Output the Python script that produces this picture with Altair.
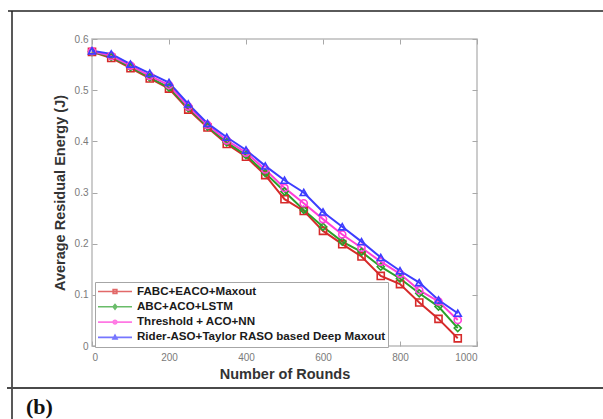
import altair as alt
import pandas as pd

# Rounds at which the residual energy was sampled
rounds = [0, 50, 100, 150, 200, 250, 300, 350, 400, 450,
          500, 550, 600, 650, 700, 750, 800, 850, 900, 950]

methods = [
    "FABC+EACO+Maxout",
    "ABC+ACO+LSTM",
    "Threshold + ACO+NN",
    "Rider-ASO+Taylor RASO based Deep Maxout",
]

# Average residual energy (J) per method
fabc_eaco_maxout = [0.575, 0.563, 0.543, 0.523, 0.503, 0.462, 0.427, 0.395, 0.370, 0.334,
                    0.287, 0.264, 0.225, 0.199, 0.175, 0.137, 0.121, 0.085, 0.053, 0.015]
abc_aco_lstm = [0.575, 0.565, 0.545, 0.525, 0.505, 0.465, 0.429, 0.398, 0.373, 0.338,
                0.302, 0.266, 0.233, 0.204, 0.184, 0.155, 0.132, 0.103, 0.077, 0.035]
threshold_aco_nn = [0.576, 0.567, 0.548, 0.528, 0.510, 0.468, 0.432, 0.402, 0.378, 0.345,
                    0.309, 0.279, 0.248, 0.218, 0.192, 0.165, 0.141, 0.109, 0.087, 0.051]
rider_aso_taylor = [0.577, 0.571, 0.551, 0.533, 0.515, 0.473, 0.435, 0.408, 0.383, 0.352,
                    0.324, 0.300, 0.262, 0.233, 0.204, 0.173, 0.147, 0.124, 0.090, 0.064]

x_ticks = [0, 200, 400, 600, 800, 1000]
y_ticks = [0, 0.1, 0.2, 0.3, 0.4, 0.5, 0.6]

colors = ["#d62a2a", "#2aa02a", "#ff3fd9", "#3d3dff"]
marker_shapes = ["square", "diamond", "circle", "triangle-up"]
# legend glyphs: a line segment with the series marker in its middle
legend_glyphs = [
    "M-1,0H1M-0.11,-0.11H0.11V0.11H-0.11Z",
    "M-1,0H1M0,-0.14L0.11,0L0,0.14L-0.11,0Z",
    "M-1,0H1M-0.11,0A0.11,0.11 0 1,0 0.11,0A0.11,0.11 0 1,0 -0.11,0Z",
    "M-1,0H1M0,-0.13L0.12,0.09L-0.12,0.09Z",
]

rows = []
for name, vals in zip(methods, [fabc_eaco_maxout, abc_aco_lstm, threshold_aco_nn, rider_aso_taylor]):
    for r, v in zip(rounds, vals):
        rows.append({"rounds": r, "energy": v, "method": name})
df = pd.DataFrame(rows)

FONT = "Liberation Sans"
AXIS_GREY = "#a8a8a8"
LABEL_GREY = "#7a7a7a"
TITLE_COLOR = "#333333"

x_scale = alt.Scale(domain=[0, 1000], nice=False)
y_scale = alt.Scale(domain=[0, 0.6], nice=False)

tick_axis = dict(
    tickSize=5, offset=-5, domain=False, grid=False,
    tickColor=AXIS_GREY, tickWidth=1,
    labelFont=FONT, labelFontSize=10, labelColor=LABEL_GREY,
)
title_style = dict(titleFont=FONT, titleFontSize=14.5, titleFontWeight="bold", titleColor=TITLE_COLOR)

lines = alt.Chart(df).mark_line(strokeWidth=2).encode(
    x=alt.X("rounds:Q", scale=x_scale,
            axis=alt.Axis(orient="bottom", values=x_ticks, format="d",
                          labelPadding=6, title="Number of Rounds", titlePadding=5,
                          **tick_axis, **title_style)),
    y=alt.Y("energy:Q", scale=y_scale,
            axis=alt.Axis(orient="left", values=y_ticks, format=".1~f",
                          labelPadding=4, title="Average Residual Energy (J)", titlePadding=7,
                          **tick_axis, **title_style)),
    color=alt.Color("method:N", scale=alt.Scale(domain=methods, range=colors), legend=None),
)

points = alt.Chart(df).mark_point(filled=False, size=50, strokeWidth=1.6, opacity=1).encode(
    x=alt.X("rounds:Q", scale=x_scale,
            axis=alt.Axis(orient="top", values=x_ticks, labels=False, title=None, **tick_axis)),
    y=alt.Y("energy:Q", scale=y_scale,
            axis=alt.Axis(orient="right", values=y_ticks, labels=False, title=None, **tick_axis)),
    color=alt.Color("method:N", scale=alt.Scale(domain=methods, range=colors), legend=None),
    shape=alt.Shape("method:N", scale=alt.Scale(domain=methods, range=marker_shapes), legend=None),
)

legend_props = dict(
    orient="none", legendX=3, legendY=243, title=None,
    padding=2, strokeColor="#a6a6a6", fillColor="white", cornerRadius=0,
    labelFont=FONT, labelFontSize=11.6, labelFontWeight="bold", labelColor="#1a1a1a",
    labelOffset=4, labelLimit=400,
    symbolSize=1156, symbolStrokeWidth=1.6, symbolFillColor="transparent",
    clipHeight=15, rowPadding=0.3,
)

# legend-only layer: no rows pass the filter, the legend comes from the scale domains
legend_layer = alt.Chart(df).transform_filter("datum.rounds < 0").mark_point(
    filled=False, strokeWidth=1.6
).encode(
    x=alt.X("rounds:Q", scale=x_scale, axis=None),
    y=alt.Y("energy:Q", scale=y_scale, axis=None),
    color=alt.Color("method:N", scale=alt.Scale(domain=methods, range=colors),
                    legend=alt.Legend(**legend_props)),
    shape=alt.Shape("method:N", scale=alt.Scale(domain=methods, range=legend_glyphs),
                    legend=alt.Legend(**legend_props)),
)

# figure-panel frame and caption
one_row = pd.DataFrame({"k": [0]})
top_rule = alt.Chart(one_row).mark_rule(color="#5a5a5a", strokeWidth=2).encode(
    x=alt.value(-84), x2=alt.value(511), y=alt.value(-28))
left_rule = alt.Chart(one_row).mark_rule(color="#222222", strokeWidth=1.5).encode(
    x=alt.value(-80), y=alt.value(-28), y2=alt.value(385))
bottom_rule = alt.Chart(one_row).mark_rule(color="#4a4a4a", strokeWidth=2).encode(
    x=alt.value(-85), x2=alt.value(511), y=alt.value(349))
caption = alt.Chart(one_row).mark_text(
    font="Liberation Serif", fontSize=22, fontWeight="bold", align="left",
    baseline="alphabetic", color="#111111"
).encode(x=alt.value(-66), y=alt.value(375), text=alt.value("(b)"))

chart = alt.layer(
    lines, points, legend_layer, top_rule, left_rule, bottom_rule, caption
).resolve_scale(
    shape="independent", color="independent"
).resolve_axis(
    x="independent", y="independent"
).properties(
    width=385, height=307,
    autosize=alt.AutoSizeParams(type="none"),
    padding={"left": 92, "top": 39, "right": 126, "bottom": 73},
    background="white",
).configure_view(
    stroke="#bcbcbc", strokeWidth=1.5
)

chart.save("out.html", embed_options={"renderer": "svg", "actions": False})
